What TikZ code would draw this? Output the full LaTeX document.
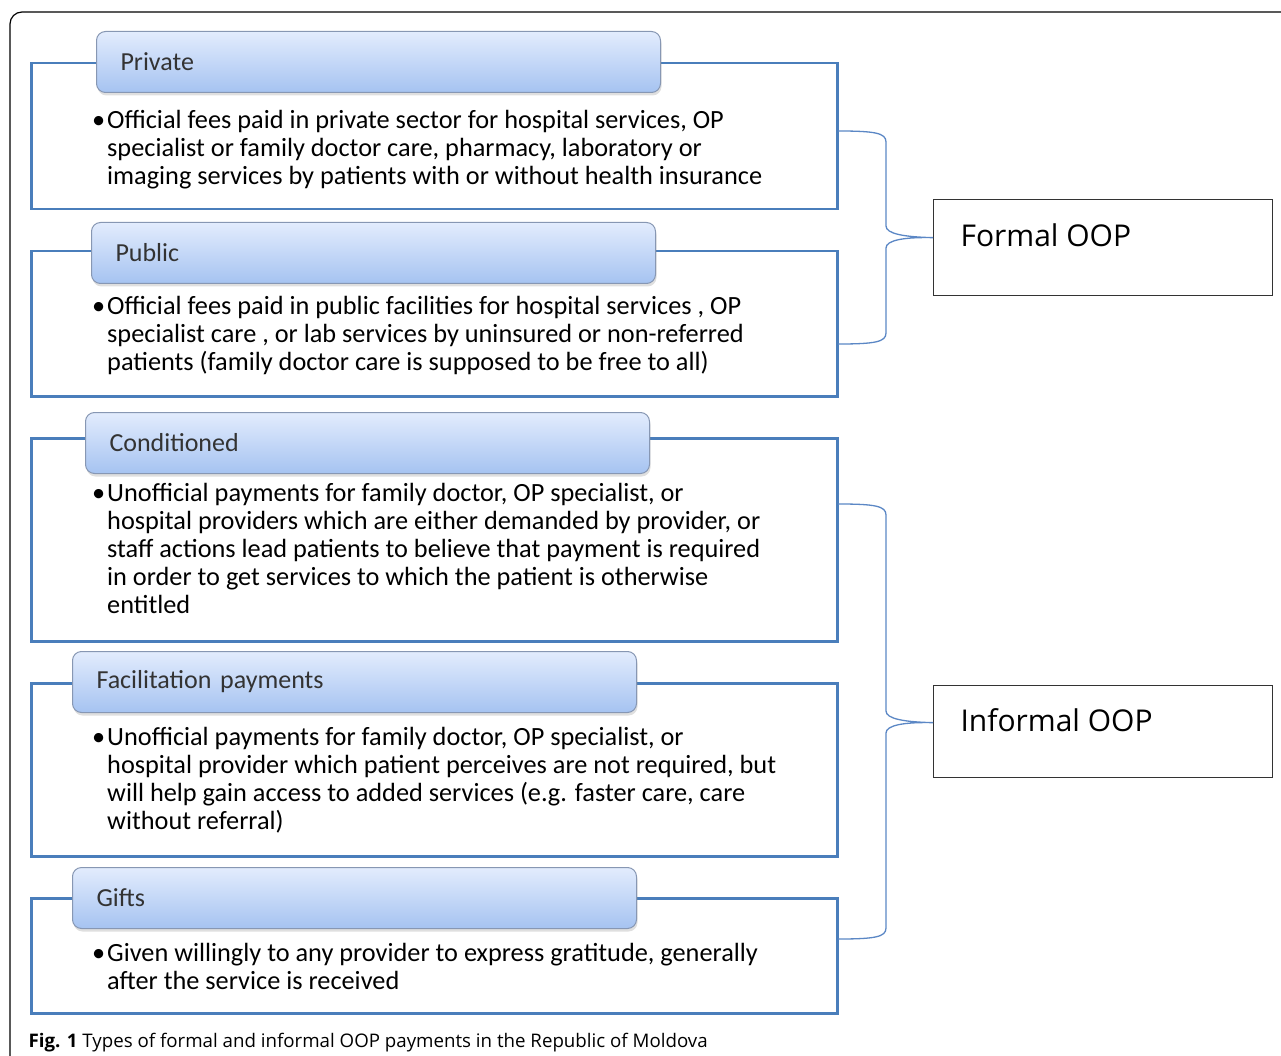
\documentclass[tikz,border=0pt]{standalone}
\usepackage{fontspec}
\setmainfont{Carlito}
\newfontfamily\oopfont{Open Sans}
\usetikzlibrary{positioning, shadows}

\definecolor{frameblue}{HTML}{4A7EBB}
\definecolor{bracecol}{HTML}{5B87C5}
\definecolor{hdtop}{HTML}{E2ECFD}
\definecolor{hdbot}{HTML}{A6C3F1}
\definecolor{hdline}{HTML}{8797B3}
\newcommand{\bull}{\llap{\textbullet\hspace{2pt}}}

\begin{document}
\begin{tikzpicture}[x=1pt, y=-1pt,
    frame/.style={draw=frameblue, line width=2.5pt, anchor=north west, minimum width=806pt, inner sep=0pt},
    header/.style={draw=hdline, line width=1pt, rounded corners=9pt, top color=hdtop, bottom color=hdbot,
                   drop shadow={shadow xshift=1pt, shadow yshift=-3pt, opacity=0.25},
                   anchor=north west, minimum height=61pt, inner xsep=24pt, text width=516pt, align=left,
                   text=black!80, font=\fontsize{26}{28}\selectfont},
    bodytext/.style={anchor=north west, align=left, inner sep=0pt, font=\fontsize{26.3}{28}\selectfont},
    oopbox/.style={draw=black!80, line width=1.3pt, anchor=north west, minimum width=339pt, inner sep=0pt},
    ooplabel/.style={anchor=base west, font=\oopfont\fontsize{30}{32}\selectfont},
    brace/.style={draw=bracecol, line width=1.3pt}]
   \useasboundingbox (0,0) rectangle (1281,1056);

   % Outer figure frame
   \draw[black, line width=1.2pt, rounded corners=12pt] (10,1080) -- (10,12) -- (1300,12);

   % Category frames
   \node[frame, minimum height=146pt] (fpriv) at (30,62) {};
   \node[frame, minimum height=145pt] (fpub) at (30,250) {};
   \node[frame, minimum height=203pt] (fcond) at (30,437) {};
   \node[frame, minimum height=173pt] (ffac) at (30,682) {};
   \node[frame, minimum height=115pt] (fgift) at (30,897) {};

   % Headers
   \node[header] (hpriv) at (96,31) {Private};
   \node[header] (hpub) at (91,222) {Public};
   \node[header] (hcond) at (85,412) {Conditioned};
   \node[header] (hfac) at (72,651) {Facilitation payments};
   \node[header] (hgift) at (72,867) {Gifts};

   % Descriptions
   \node[bodytext] (tpriv) at (107,110) {\bull Official fees paid in private sector for hospital services, OP\\
      specialist or family doctor care, pharmacy, laboratory or\\
      imaging services by patients with or without health insurance};
   \node[bodytext] (tpub) at (107,296) {\bull Official fees paid in public facilities for hospital services , OP\\
      specialist care , or lab services by uninsured or non-referred\\
      patients (family doctor care is supposed to be free to all)};
   \node[bodytext] (tcond) at (107,483) {\bull Unofficial payments for family doctor, OP specialist, or\\
      hospital providers which are either demanded by provider, or\\
      staff actions lead patients to believe that payment is required\\
      in order to get services to which the patient is otherwise\\
      entitled};
   \node[bodytext] (tfac) at (107,727) {\bull Unofficial payments for family doctor, OP specialist, or\\
      hospital provider which patient perceives are not required, but\\
      will help gain access to added services (e.g. faster care, care\\
      without referral)};
   \node[bodytext] (tgift) at (107,943) {\bull Given willingly to any provider to express gratitude, generally\\
      after the service is received};

   % OOP types
   \node[oopbox, minimum height=96pt] (formal) at (933,199) {};
   \node[ooplabel] (lformal) at (957,247) {Formal OOP};
   \node[oopbox, minimum height=92pt] (informal) at (933,685) {};
   \node[ooplabel] (linformal) at (957,731) {Informal OOP};

   % Braces
   \coordinate (ftop) at (838,131);
   \coordinate (fbot) at (838,344);
   \coordinate (itop) at (838,504);
   \coordinate (ibot) at (838,939);
   \draw[brace] (ftop) .. controls (875,131) and (886,133) .. (886,142) -- (886,226)
      .. controls (886,234) and (905,237) .. ([yshift=10pt]formal.west)
      .. controls (905,237) and (886,240) .. (886,248) -- (886,333)
      .. controls (886,342) and (875,344) .. (fbot);
   \draw[brace] (itop) .. controls (875,504) and (886,506) .. (886,515) -- (886,711)
      .. controls (886,719) and (905,722) .. ([yshift=9pt]informal.west)
      .. controls (905,722) and (886,725) .. (886,733) -- (886,928)
      .. controls (886,937) and (875,939) .. (ibot);

   % Caption
   \node[anchor=base west, font=\oopfont\fontsize{18.7}{22}\selectfont] (caption) at (25,1047)
      {\textbf{Fig. 1} Types of formal and informal OOP payments in the Republic of Moldova};
\end{tikzpicture}
\end{document}
